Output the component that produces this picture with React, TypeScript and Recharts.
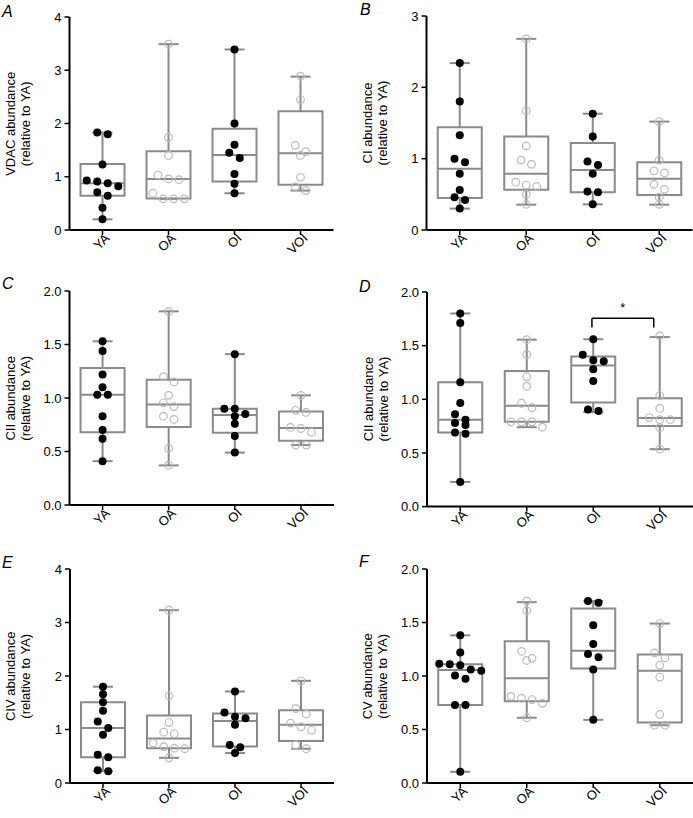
import React from 'react';
import { ComposedChart, XAxis, YAxis, Scatter, ReferenceArea, ReferenceLine, ReferenceDot } from 'recharts';

const groups = ['YA', 'OA', 'OI', 'VOI'];
const filledGroups = [true, false, true, false];

// Panel A – VDAC
const vdacYA = [1.83, 1.8, 1.23, 0.93, 0.91, 0.88, 0.82, 0.71, 0.645, 0.42, 0.2];
const vdacOA = [3.49, 1.74, 1.4, 1.03, 0.96, 0.945, 0.69, 0.585, 0.585, 0.585];
const vdacOI = [3.39, 2.0, 1.6, 1.45, 1.35, 1.05, 0.87, 0.69];
const vdacVOI = [2.89, 2.45, 1.59, 1.47, 1.4, 0.99, 0.81, 0.74];
// box stats: [min, q1, median, q3, max]
const vdacBoxes = [
  [0.2, 0.645, 0.88, 1.24, 1.83],
  [0.585, 0.59, 0.96, 1.48, 3.49],
  [0.69, 0.91, 1.41, 1.9, 3.39],
  [0.74, 0.85, 1.44, 2.23, 2.88],
];

// Panel B – CI
const ciYA = [2.34, 1.8, 1.33, 1.0, 0.95, 0.79, 0.56, 0.46, 0.42, 0.3];
const ciOA = [2.68, 1.67, 1.18, 0.98, 0.92, 0.67, 0.63, 0.61, 0.5, 0.36];
const ciOI = [1.63, 1.31, 0.96, 0.91, 0.79, 0.54, 0.53, 0.36];
const ciVOI = [1.52, 0.98, 0.83, 0.8, 0.64, 0.57, 0.46, 0.36];
const ciBoxes = [
  [0.3, 0.45, 0.86, 1.44, 2.34],
  [0.355, 0.565, 0.79, 1.31, 2.68],
  [0.36, 0.53, 0.84, 1.22, 1.63],
  [0.355, 0.49, 0.72, 0.95, 1.52],
];

// Panel C – CII
const ciiYA = [1.53, 1.44, 1.22, 1.1, 1.03, 1.03, 0.83, 0.7, 0.62, 0.41];
const ciiOA = [1.81, 1.2, 1.15, 1.025, 0.955, 0.92, 0.83, 0.8, 0.53, 0.37];
const ciiOI = [1.41, 0.9, 0.9, 0.85, 0.83, 0.76, 0.645, 0.49];
const ciiVOI = [1.025, 0.885, 0.865, 0.725, 0.715, 0.68, 0.56, 0.56];
const ciiBoxes = [
  [0.41, 0.68, 1.03, 1.28, 1.53],
  [0.37, 0.73, 0.94, 1.17, 1.81],
  [0.49, 0.675, 0.84, 0.9, 1.41],
  [0.56, 0.6, 0.72, 0.875, 1.025],
];

// Panel D
const dYA = [1.8, 1.71, 1.16, 0.965, 0.86, 0.81, 0.78, 0.76, 0.69, 0.68, 0.23];
const dOA = [1.556, 1.416, 1.21, 1.12, 0.963, 0.922, 0.79, 0.79, 0.79, 0.74];
const dOI = [1.56, 1.415, 1.365, 1.355, 1.28, 1.17, 0.905, 0.89];
const dVOI = [1.59, 1.035, 0.915, 0.83, 0.81, 0.81, 0.735, 0.535];
const dBoxes = [
  [0.23, 0.69, 0.81, 1.16, 1.8],
  [0.74, 0.79, 0.94, 1.264, 1.556],
  [0.88, 0.97, 1.315, 1.4, 1.56],
  [0.535, 0.75, 0.825, 1.01, 1.58],
];
// significance bracket: [xStart, xEnd, yTop, yLeg]
const dSig = [2.48, 3.41, 1.755, 1.67];
const dSigLabel = '*';

// Panel E – CIV
const civYA = [1.8, 1.66, 1.51, 1.35, 1.15, 1.03, 0.9, 0.53, 0.48, 0.24, 0.22];
const civOA = [3.23, 1.63, 1.13, 0.95, 0.92, 0.75, 0.68, 0.65, 0.64, 0.47];
const civOI = [1.71, 1.32, 1.24, 1.21, 1.09, 0.71, 0.67, 0.56];
const civVOI = [1.91, 1.39, 1.29, 1.12, 1.05, 0.99, 0.71, 0.64];
const civBoxes = [
  [0.22, 0.48, 1.03, 1.51, 1.8],
  [0.47, 0.65, 0.83, 1.26, 3.23],
  [0.56, 0.68, 1.16, 1.3, 1.71],
  [0.64, 0.785, 1.09, 1.36, 1.91],
];

// Panel F – CV
const cvYA = [1.38, 1.22, 1.115, 1.11, 1.1, 1.06, 1.05, 1.005, 0.975, 0.73, 0.73, 0.105];
const cvOA = [1.7, 1.61, 1.23, 1.165, 1.145, 0.81, 0.79, 0.78, 0.745, 0.61];
const cvOI = [1.7, 1.685, 1.475, 1.3, 1.205, 1.175, 1.06, 0.59];
const cvVOI = [1.49, 1.215, 1.17, 1.1, 0.99, 0.64, 0.54, 0.54];
const cvBoxes = [
  [0.105, 0.73, 1.055, 1.11, 1.38],
  [0.61, 0.765, 0.98, 1.325, 1.69],
  [0.59, 1.07, 1.235, 1.63, 1.7],
  [0.54, 0.565, 1.05, 1.2, 1.49],
];

const ticks4 = [0, 1, 2, 3, 4];
const ticks3 = [0, 1, 2, 3];
const ticks2 = [0, 0.5, 1, 1.5, 2];

const FONT = '"Liberation Sans", Arial, Helvetica, sans-serif';
const BOX_COLOR = '#8a8a8a';
const OPEN_COLOR = '#b9b9b9';

type Panel = {
  letter: string;
  label: string;
  values: number[][];
  boxes: number[][];
  yMax: number;
  yTicks: number[];
  decimals: number;
  chartLeft: number;
  chartW: number;
  plotLeft: number;
  plotRight: number;
  plotTop: number;
  plotBottom: number;
  letterX: number;
  letterY: number;
  sig?: number[];
  sigLabel?: string;
};

const panels: Panel[] = [
  { letter: 'A', label: 'VDAC abundance', values: [vdacYA, vdacOA, vdacOI, vdacVOI], boxes: vdacBoxes, yMax: 4, yTicks: ticks4, decimals: 0,
    chartLeft: 0, chartW: 346, plotLeft: 69.5, plotRight: 333.5, plotTop: 17.3, plotBottom: 230.3, letterX: 2, letterY: 17 },
  { letter: 'B', label: 'CI abundance', values: [ciYA, ciOA, ciOI, ciVOI], boxes: ciBoxes, yMax: 3, yTicks: ticks3, decimals: 0,
    chartLeft: 346, chartW: 347, plotLeft: 426.5, plotRight: 692.5, plotTop: 16, plotBottom: 230, letterX: 360, letterY: 15 },
  { letter: 'C', label: 'CII abundance', values: [ciiYA, ciiOA, ciiOI, ciiVOI], boxes: ciiBoxes, yMax: 2, yTicks: ticks2, decimals: 1,
    chartLeft: 0, chartW: 346, plotLeft: 69.5, plotRight: 334, plotTop: 291.3, plotBottom: 505.3, letterX: 2, letterY: 289 },
  { letter: 'D', label: 'CII abundance', values: [dYA, dOA, dOI, dVOI], boxes: dBoxes, yMax: 2, yTicks: ticks2, decimals: 1,
    chartLeft: 346, chartW: 347, plotLeft: 427, plotRight: 693, plotTop: 291.7, plotBottom: 506.3, letterX: 359, letterY: 292, sig: dSig, sigLabel: dSigLabel },
  { letter: 'E', label: 'CIV abundance', values: [civYA, civOA, civOI, civVOI], boxes: civBoxes, yMax: 4, yTicks: ticks4, decimals: 0,
    chartLeft: 0, chartW: 346, plotLeft: 70, plotRight: 334, plotTop: 569.3, plotBottom: 783.3, letterX: 2, letterY: 568 },
  { letter: 'F', label: 'CV abundance', values: [cvYA, cvOA, cvOI, cvVOI], boxes: cvBoxes, yMax: 2, yTicks: ticks2, decimals: 1,
    chartLeft: 346, chartW: 347, plotLeft: 427, plotRight: 693, plotTop: 569.3, plotBottom: 783.3, letterX: 359, letterY: 567 },
];

const THRESH_PX = 7;
const SPACING_PX = 10.5;

// simple row-based beeswarm layout (computed, in data units)
function swarm(values: number[], center: number, pxPerY: number, pxPerX: number) {
  const sorted = [...values].sort((a, b) => b - a);
  const pts: { x: number; y: number }[] = [];
  let i = 0;
  while (i < sorted.length) {
    let j = i + 1;
    while (j < sorted.length && (sorted[i] - sorted[j]) * pxPerY < THRESH_PX) j++;
    const n = j - i;
    for (let k = 0; k < n; k++) {
      pts.push({ x: center + ((k - (n - 1) / 2) * SPACING_PX) / pxPerX, y: sorted[i + k] });
    }
    i = j;
  }
  return pts;
}

const XTick = (props: any) => {
  const { x, y, payload } = props;
  const label = groups[Math.floor(payload.value)];
  const ax = x + 8;
  const ay = y + 2;
  return (
    <text x={ax} y={ay} transform={`rotate(-45 ${ax} ${ay})`} textAnchor="end" fontSize={13} fontFamily={FONT} fill="#000">
      {label}
    </text>
  );
};

const FilledDot = (props: any) => <circle cx={props.cx} cy={props.cy} r={4} fill="#000" />;
const OpenDot = (props: any) => <circle cx={props.cx} cy={props.cy} r={3.8} fill="none" stroke={OPEN_COLOR} strokeWidth={1.2} />;

function PanelChart({ p }: { p: Panel }) {
  const TOP = 10;
  const XH = 50;
  const plotW = p.plotRight - p.plotLeft;
  const plotH = p.plotBottom - p.plotTop;
  const pxX = plotW / 4;
  const pxY = plotH / p.yMax;
  const boxHalf = 22 / pxX;
  const capHalf = 10 / pxX;

  const refs: React.ReactNode[] = [];
  p.boxes.forEach((b, gi) => {
    const [mn, q1, med, q3, mx] = b;
    const c = gi + 0.5;
    const common = { stroke: BOX_COLOR, strokeWidth: 2, ifOverflow: 'visible' as const };
    refs.push(<ReferenceLine key={`wu${gi}`} segment={[{ x: c, y: q3 }, { x: c, y: mx }]} {...common} />);
    refs.push(<ReferenceLine key={`wl${gi}`} segment={[{ x: c, y: mn }, { x: c, y: q1 }]} {...common} />);
    refs.push(<ReferenceLine key={`cu${gi}`} segment={[{ x: c - capHalf, y: mx }, { x: c + capHalf, y: mx }]} {...common} />);
    refs.push(<ReferenceLine key={`cl${gi}`} segment={[{ x: c - capHalf, y: mn }, { x: c + capHalf, y: mn }]} {...common} />);
    refs.push(
      <ReferenceArea key={`bx${gi}`} x1={c - boxHalf} x2={c + boxHalf} y1={q1} y2={q3} fill="none" fillOpacity={0} stroke={BOX_COLOR} strokeWidth={2} ifOverflow="visible" />
    );
    refs.push(<ReferenceLine key={`md${gi}`} segment={[{ x: c - boxHalf, y: med }, { x: c + boxHalf, y: med }]} {...common} />);
  });

  if (p.sig) {
    const [x1, x2, yt, yl] = p.sig;
    const sc = { stroke: '#000', strokeWidth: 1.5, ifOverflow: 'visible' as const };
    refs.push(<ReferenceLine key="s1" segment={[{ x: x1, y: yl }, { x: x1, y: yt }]} {...sc} />);
    refs.push(<ReferenceLine key="s2" segment={[{ x: x1, y: yt }, { x: x2, y: yt }]} {...sc} />);
    refs.push(<ReferenceLine key="s3" segment={[{ x: x2, y: yt }, { x: x2, y: yl }]} {...sc} />);
    refs.push(
      <ReferenceDot
        key="s4"
        x={(x1 + x2) / 2}
        y={yt}
        r={0}
        ifOverflow="visible"
        shape={(sp: any) => (
          <text x={sp.cx} y={sp.cy - 6} textAnchor="middle" fontSize={13} fontFamily={FONT} fill="#000">
            {p.sigLabel}
          </text>
        )}
      />
    );
  }

  const scatters = p.values.map((vals, gi) => (
    <Scatter
      key={`sc${gi}`}
      name={groups[gi]}
      data={swarm(vals, gi + 0.5, pxY, pxX)}
      shape={filledGroups[gi] ? FilledDot : OpenDot}
      isAnimationActive={false}
    />
  ));

  return (
    <div style={{ position: 'absolute', left: p.chartLeft, top: p.plotTop - TOP }}>
      <ComposedChart
        width={p.chartW}
        height={TOP + plotH + XH}
        margin={{ top: TOP, right: p.chartLeft + p.chartW - p.plotRight, bottom: 0, left: 0 }}
      >
        <XAxis
          type="number"
          dataKey="x"
          domain={[0, 4]}
          ticks={[0.5, 1.5, 2.5, 3.5]}
          interval={0}
          height={XH}
          tick={<XTick />}
          tickSize={5}
          axisLine={{ stroke: '#000', strokeWidth: 2 }}
          tickLine={{ stroke: '#000', strokeWidth: 1.5 }}
        />
        <YAxis
          type="number"
          dataKey="y"
          domain={[0, p.yMax]}
          ticks={p.yTicks}
          interval={0}
          width={p.plotLeft - p.chartLeft}
          tickSize={5}
          tickMargin={3}
          tick={{ fill: '#000', fontSize: 13, fontFamily: FONT }}
          tickFormatter={(v: number) => v.toFixed(p.decimals)}
          axisLine={{ stroke: '#000', strokeWidth: 2 }}
          tickLine={{ stroke: '#000', strokeWidth: 1.5 }}
        />
        {refs}
        {scatters}
      </ComposedChart>
    </div>
  );
}

function Labels() {
  return (
    <svg width={693} height={818} style={{ position: 'absolute', left: 0, top: 0, pointerEvents: 'none' }}>
      {panels.map((p) => {
        const cy = (p.plotTop + p.plotBottom) / 2;
        const x1 = p.plotLeft - 59;
        const x2 = p.plotLeft - 44;
        return (
          <g key={p.letter} fontFamily={FONT} fill="#000">
            <text x={p.letterX} y={p.letterY} fontSize={16} fontStyle="italic">
              {p.letter}
            </text>
            <text x={x1} y={cy} transform={`rotate(-90 ${x1} ${cy})`} textAnchor="middle" dominantBaseline="central" fontSize={13}>
              {p.label}
            </text>
            <text x={x2} y={cy} transform={`rotate(-90 ${x2} ${cy})`} textAnchor="middle" dominantBaseline="central" fontSize={13}>
              (relative to YA)
            </text>
          </g>
        );
      })}
    </svg>
  );
}

export default function App() {
  return (
    <div style={{ position: 'absolute', left: 0, top: 0, width: 693, height: 818, background: '#fff' }}>
      {panels.map((p) => (
        <PanelChart key={p.letter} p={p} />
      ))}
      <Labels />
    </div>
  );
}
